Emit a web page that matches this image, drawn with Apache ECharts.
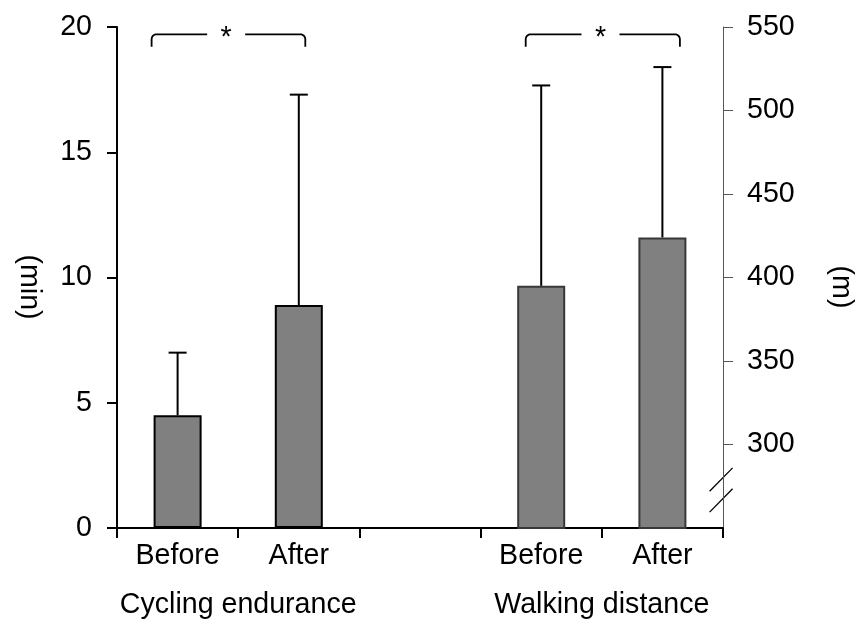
<!DOCTYPE html>
<html>
<head>
<meta charset="utf-8">
<script src="https://cdn.jsdelivr.net/npm/echarts@6/dist/echarts.min.js"></script>
<style>
  html, body { margin: 0; padding: 0; background: #fff; }
  #chart { width: 858px; height: 626px; }
</style>
</head>
<body>
<div id="chart"></div>
<script>
// Bar categories: two groups of Before/After with an empty spacer slot
const categories = ['Before', 'After', '', 'Before', 'After'];
const groupNames = ['Cycling endurance', 'Walking distance'];
const groupSlots = [[0, 1], [3, 4]];

// Cycling endurance (min): mean and mean + SD
const cyclingSlots = [0, 1];
const cyclingMean = [4.5, 8.9];
const cyclingUpper = [7.0, 17.3];

// Walking distance (m): mean and mean + SD
const walkingSlots = [3, 4];
const walkingMean = [395, 424];
const walkingUpper = [515, 526];

// Axis ticks
const minuteTicks = [0, 5, 10, 15, 20];
const metreTicks = [300, 350, 400, 450, 500, 550];
const metreFloor = 250;

// Significance brackets
const sigPairs = [[0, 1], [3, 4]];
const sigLabels = ['*', '*'];

const FONT = "'Liberation Sans', Arial, Helvetica, sans-serif";
const FS = 28.6;

function slotSeries(slots, values) {
  const out = categories.map(() => '-');
  slots.forEach((s, i) => { out[s] = values[i]; });
  return out;
}

function errorData(slots, mean, upper) {
  return slots.map((s, i) => [s, mean[i], upper[i]]);
}

function renderError(params, api) {
  const cat = api.value(0);
  const base = api.coord([cat, api.value(1)]);
  const top = api.coord([cat, api.value(2)]);
  const half = 9;
  const style = { stroke: '#000', lineWidth: 2 };
  return {
    type: 'group',
    children: [
      { type: 'line', shape: { x1: base[0], y1: base[1], x2: top[0], y2: top[1] }, style },
      { type: 'line', shape: { x1: top[0] - half, y1: top[1], x2: top[0] + half, y2: top[1] }, style }
    ]
  };
}

const chart = echarts.init(document.getElementById('chart'), null, { renderer: 'canvas' });

const option = {
  animation: false,
  backgroundColor: '#fff',
  textStyle: { fontFamily: FONT },
  grid: { left: 117, right: 135, top: 27, bottom: 98, containLabel: false, outerBoundsMode: 'none' },
  xAxis: {
    type: 'category',
    data: categories,
    boundaryGap: true,
    axisLine: { show: true, lineStyle: { color: '#000', width: 2 } },
    axisTick: { show: true, length: 10, lineStyle: { color: '#000', width: 2 } },
    axisLabel: { color: '#000', fontSize: FS, fontFamily: FONT, margin: 14, interval: 0 },
    splitLine: { show: false }
  },
  yAxis: [
    {
      type: 'value',
      min: minuteTicks[0],
      max: minuteTicks[minuteTicks.length - 1],
      interval: 5,
      position: 'left',
      axisLine: { show: true, lineStyle: { color: '#000', width: 2 } },
      axisTick: { show: true, length: 10, lineStyle: { color: '#000', width: 2 } },
      axisLabel: { color: '#000', fontSize: FS, fontFamily: FONT, margin: 25 },
      splitLine: { show: false }
    },
    {
      type: 'value',
      min: metreFloor,
      max: metreTicks[metreTicks.length - 1],
      interval: 50,
      position: 'right',
      axisLine: { show: true, onZero: false, lineStyle: { color: '#555', width: 1 } },
      axisTick: { show: true, length: 10, customValues: metreTicks, lineStyle: { color: '#555', width: 1 } },
      axisLabel: {
        color: '#000', fontSize: FS, fontFamily: FONT, margin: 24,
        customValues: metreTicks,
        formatter: v => (v < metreTicks[0] ? '' : String(v))
      },
      splitLine: { show: false }
    }
  ],
  series: [
    {
      type: 'bar',
      yAxisIndex: 0,
      data: slotSeries(cyclingSlots, cyclingMean),
      barWidth: 48,
      barGap: '-100%',
      itemStyle: { color: '#808080', borderColor: '#000', borderWidth: 2 }
    },
    {
      type: 'bar',
      yAxisIndex: 1,
      data: slotSeries(walkingSlots, walkingMean),
      barWidth: 48,
      barGap: '-100%',
      clip: true,
      itemStyle: { color: '#808080', borderColor: '#383838', borderWidth: 2 }
    },
    {
      type: 'custom',
      yAxisIndex: 0,
      renderItem: renderError,
      encode: { x: 0, y: [1, 2] },
      data: errorData(cyclingSlots, cyclingMean, cyclingUpper),
      z: 3
    },
    {
      type: 'custom',
      yAxisIndex: 1,
      renderItem: renderError,
      encode: { x: 0, y: [1, 2] },
      data: errorData(walkingSlots, walkingMean, walkingUpper),
      z: 3
    }
  ]
};

chart.setOption(option);

// Annotations placed through the axes: brackets, group titles, axis titles, axis break
const xPix = c => chart.convertToPixel({ xAxisIndex: 0 }, c);
const yLeft = v => chart.convertToPixel({ yAxisIndex: 0 }, v);
const yRight = v => chart.convertToPixel({ yAxisIndex: 1 }, v);

const graphics = [];
const textStyle = (text, extra) => Object.assign({
  text, fill: '#000', fontSize: FS, fontFamily: FONT, align: 'center', verticalAlign: 'middle'
}, extra || {});

// quarter-circle corner as a list of points
function corner(cx, cy, r, a0, a1) {
  const pts = [];
  for (let k = 0; k <= 6; k++) {
    const a = a0 + (a1 - a0) * k / 6;
    pts.push([cx + r * Math.cos(a), cy + r * Math.sin(a)]);
  }
  return pts;
}

// bracket end offsets (px) relative to the bar centres
const bracketInsets = [[-26, 6.5], [-15.5, 17.5]];
const bracketTop = yLeft(minuteTicks[minuteTicks.length - 1]) + 7.3;
const bracketDrop = 12.4;
const r = 5;
const lineStyle = { stroke: '#000', lineWidth: 1.8, fill: null };
sigPairs.forEach((pair, i) => {
  const x1 = xPix(pair[0]) + bracketInsets[i][0];
  const x2 = xPix(pair[1]) + bracketInsets[i][1];
  const mid = (x1 + x2) / 2 - 2.3;
  const gap = 19;
  const yt = bracketTop, yb = bracketTop + bracketDrop;
  const left = [[x1, yb]].concat(corner(x1 + r, yt + r, r, Math.PI, 1.5 * Math.PI), [[mid - gap, yt]]);
  const right = [[mid + gap, yt]].concat(corner(x2 - r, yt + r, r, 1.5 * Math.PI, 2 * Math.PI), [[x2, yb]]);
  graphics.push({ type: 'polyline', shape: { points: left }, style: lineStyle });
  graphics.push({ type: 'polyline', shape: { points: right }, style: lineStyle });
  graphics.push({ type: 'text', x: mid, y: yt + 4, style: textStyle(sigLabels[i]) });
});

// group titles under the category labels
groupSlots.forEach((slots, i) => {
  const cx = (xPix(slots[0]) + xPix(slots[1])) / 2;
  graphics.push({ type: 'text', x: cx, y: 605.5, style: textStyle(groupNames[i]) });
});

// axis titles, rotated
graphics.push({ type: 'text', x: 29, y: 287, rotation: -Math.PI / 2, style: textStyle('(min)') });
graphics.push({ type: 'text', x: 841, y: 287, rotation: -Math.PI / 2, style: textStyle('(m)') });

// axis break marks on the right axis
const axisX = 858 - 135;
[279, 266.5].forEach(v => {
  const cy = yRight(v);
  graphics.push({
    type: 'line',
    shape: { x1: axisX - 13.4, y1: cy + 11.7, x2: axisX + 9.6, y2: cy - 11.7 },
    style: { stroke: '#000', lineWidth: 1.3 }
  });
});

chart.setOption({ graphic: graphics });
</script>
</body>
</html>
